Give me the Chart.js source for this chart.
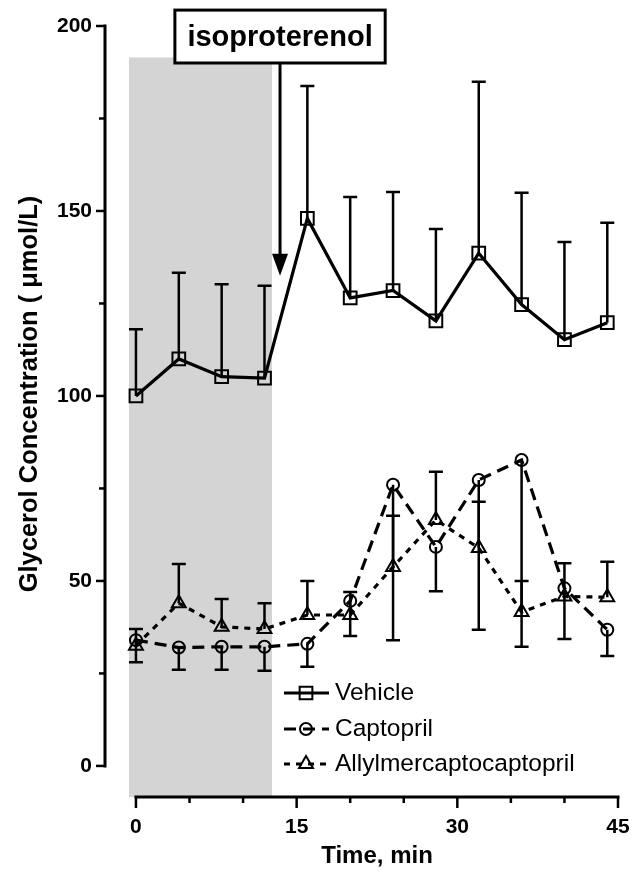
<!DOCTYPE html>
<html>
<head>
<meta charset="utf-8">
<script src="https://cdn.jsdelivr.net/npm/chart.js@4.4.0/dist/chart.umd.min.js"></script>
<style>
  html, body { margin: 0; padding: 0; background: #fff; }
  #wrap { width: 635px; height: 874px; }
</style>
</head>
<body>
<div id="wrap"><canvas id="grafica" width="635" height="874"></canvas></div>
<script>
// Datos (media y SEM)
const tiempos = [0, 4, 8, 12, 16, 20, 24, 28, 32, 36, 40, 44];
const vehicleMean = [100, 110, 105.2, 104.8, 148, 126.5, 128.5, 120.3, 138.6, 124.7, 115.2, 119.8];
const vehicleSem = [18, 23.3, 25, 25, 35.8, 27.3, 26.6, 24.8, 46.3, 30.2, 26.4, 27];
const captoprilMean = [34, 32, 32.2, 32.2, 33, 44.6, 76, 59.2, 77.3, 82.7, 48, 36.8];
const captoprilSem = [6, 6, 6.2, 6.5, 6.2, 9.5, 42, 12, 40.5, 50.5, 13.7, 7.1];
const amcMean = [32.5, 44, 37.6, 37, 40.8, 40.8, 53.8, 66.5, 58.9, 41.6, 45.8, 45.6];
const amcSem = [4.5, 10.6, 7.5, 7, 9.2, 6.2, 13.8, 13, 12.5, 8.4, 9, 9.6];

const xTicks = [0, 5, 10, 15, 20, 25, 30, 35, 40, 45];
const yTicks = [0, 25, 50, 75, 100, 125, 150, 175, 200];

const FONT = "'Liberation Sans', Arial, Helvetica, sans-serif";

// zona sombreada y anotación
const sombra = { desde: -0.65, hasta: 12.7, techo: 191.5 };
const flecha = { x: 13.45, punta: 132.5 };
const etiqueta = { texto: 'isoproterenol', arriba: 204.3, abajo: 190 };

const puntos = (ys) => tiempos.map((t, i) => ({ x: t, y: ys[i] }));

function marcador(ctx, estilo, x, y, r) {
  ctx.beginPath();
  if (estilo === 'rect') {
    const s = r * Math.SQRT1_2;
    ctx.rect(x - s, y - s, 2 * s, 2 * s);
  } else if (estilo === 'circle') {
    ctx.arc(x, y, r, 0, Math.PI * 2);
  } else {
    const h = r * 1.5, w = r * Math.sqrt(3) / 2;
    ctx.moveTo(x, y - r);
    ctx.lineTo(x + w, y + h - r);
    ctx.lineTo(x - w, y + h - r);
    ctx.closePath();
  }
  ctx.stroke();
}

const extras = {
  id: 'extras',
  beforeDatasetsDraw(chart) {
    const { ctx, chartArea, scales: { x, y } } = chart;
    ctx.save();
    // sombreado
    const x0 = x.getPixelForValue(sombra.desde);
    const x1 = x.getPixelForValue(sombra.hasta);
    const yt = y.getPixelForValue(sombra.techo);
    ctx.fillStyle = '#d4d4d4';
    ctx.fillRect(x0, yt, x1 - x0, chartArea.bottom - yt);

    // barras de error
    ctx.strokeStyle = '#000';
    ctx.lineWidth = 2.5;
    ctx.setLineDash([]);
    chart.data.datasets.forEach(ds => {
      ds.data.forEach((p, i) => {
        const px = x.getPixelForValue(p.x);
        const py = y.getPixelForValue(p.y);
        const pe = y.getPixelForValue(p.y + ds.errDir * ds.sem[i]);
        ctx.beginPath();
        ctx.moveTo(px, py);
        ctx.lineTo(px, pe);
        ctx.moveTo(px - 7, pe);
        ctx.lineTo(px + 7, pe);
        ctx.stroke();
      });
    });
    ctx.restore();
  },
  afterDraw(chart) {
    const { ctx, chartArea, scales: { x, y } } = chart;
    ctx.save();
    ctx.strokeStyle = '#000';
    ctx.fillStyle = '#000';
    ctx.setLineDash([]);

    // eje Y
    const left = chartArea.left;
    ctx.lineWidth = 3;
    ctx.beginPath();
    ctx.moveTo(left, y.getPixelForValue(200) - 1.5);
    ctx.lineTo(left, y.getPixelForValue(0) + 1.5);
    ctx.stroke();
    ctx.lineWidth = 2.5;
    yTicks.forEach(v => {
      const len = v % 50 === 0 ? 9 : 6;
      const py = y.getPixelForValue(v);
      ctx.beginPath();
      ctx.moveTo(left - len, py);
      ctx.lineTo(left, py);
      ctx.stroke();
    });

    // eje X
    const bottom = chartArea.bottom;
    ctx.lineWidth = 3;
    ctx.beginPath();
    ctx.moveTo(x.getPixelForValue(0) - 1.5, bottom);
    ctx.lineTo(x.getPixelForValue(45) + 1.5, bottom);
    ctx.stroke();
    ctx.lineWidth = 2.5;
    xTicks.forEach(v => {
      const len = v % 15 === 0 ? 11 : 6;
      const px = x.getPixelForValue(v);
      ctx.beginPath();
      ctx.moveTo(px, bottom);
      ctx.lineTo(px, bottom + len);
      ctx.stroke();
    });

    // títulos de ejes
    ctx.font = `bold 24px ${FONT}`;
    ctx.textAlign = 'center';
    ctx.textBaseline = 'middle';
    ctx.fillText('Time, min', 377, 856);
    ctx.save();
    ctx.translate(30, 394);
    ctx.rotate(-Math.PI / 2);
    ctx.font = `bold 25.5px ${FONT}`;
    ctx.fillText('Glycerol Concentration ( \u03BCmol/L)', 0, 0);
    ctx.restore();

    // leyenda
    const filas = [693, 729, 764];
    chart.data.datasets.forEach((ds, i) => {
      const ly = filas[i];
      ctx.lineWidth = 3;
      ctx.setLineDash(ds.borderDash || []);
      ctx.beginPath();
      ctx.moveTo(284, ly);
      ctx.lineTo(329, ly);
      ctx.stroke();
      ctx.setLineDash([]);
      ctx.lineWidth = 2;
      marcador(ctx, ds.pointStyle, 306, ly, ds.pointRadius);
      ctx.font = `24.5px ${FONT}`;
      ctx.textAlign = 'left';
      ctx.fillText(ds.label, 335, ly);
    });

    // anotación isoproterenol
    const ax = x.getPixelForValue(flecha.x);
    const bTop = y.getPixelForValue(etiqueta.arriba);
    const bBot = y.getPixelForValue(etiqueta.abajo);
    ctx.font = `bold 29px ${FONT}`;
    const tw = ctx.measureText(etiqueta.texto).width;
    const bw = tw + 25;
    ctx.fillStyle = '#fff';
    ctx.fillRect(ax - bw / 2, bTop, bw, bBot - bTop);
    ctx.lineWidth = 3;
    ctx.strokeRect(ax - bw / 2, bTop, bw, bBot - bTop);
    ctx.fillStyle = '#000';
    ctx.textAlign = 'center';
    ctx.fillText(etiqueta.texto, ax, (bTop + bBot) / 2 + 1);

    const tip = y.getPixelForValue(flecha.punta);
    ctx.beginPath();
    ctx.moveTo(ax, bBot);
    ctx.lineTo(ax, tip - 15);
    ctx.stroke();
    ctx.beginPath();
    ctx.moveTo(ax, tip);
    ctx.lineTo(ax - 8, tip - 22);
    ctx.lineTo(ax + 8, tip - 22);
    ctx.closePath();
    ctx.fill();
    ctx.restore();
  }
};

const serie = (label, ys, sem, dir, estilo, radio, dash) => ({
  label,
  data: puntos(ys),
  sem,
  errDir: dir,
  borderColor: '#000',
  backgroundColor: 'rgba(0,0,0,0)',
  borderWidth: 3.2,
  borderDash: dash,
  pointStyle: estilo,
  pointRadius: radio,
  pointBorderWidth: 2,
  pointBorderColor: '#000',
  pointBackgroundColor: 'rgba(0,0,0,0)',
  tension: 0,
  fill: false
});

new Chart(document.getElementById('grafica').getContext('2d'), {
  type: 'line',
  data: {
    datasets: [
      serie('Vehicle', vehicleMean, vehicleSem, 1, 'rect', 9, []),
      serie('Captopril', captoprilMean, captoprilSem, -1, 'circle', 6, [12, 7]),
      serie('Allylmercaptocaptopril', amcMean, amcSem, 1, 'triangle', 8, [6, 6])
    ]
  },
  plugins: [extras],
  options: {
    responsive: false,
    animation: false,
    layout: { padding: { top: 26, right: 17, left: 0, bottom: 0 } },
    plugins: { legend: { display: false }, tooltip: { enabled: false } },
    scales: {
      x: {
        type: 'linear',
        min: -2.89,
        max: 45,
        afterFit: s => { s.height = 77; s.paddingLeft = 0; s.paddingRight = 0; },
        afterBuildTicks: s => { s.ticks = xTicks.map(v => ({ value: v })); },
        grid: { display: false, drawTicks: false },
        border: { display: false },
        ticks: {
          autoSkip: false,
          maxRotation: 0,
          padding: 18,
          color: '#000',
          font: { family: FONT, size: 21, weight: 'bold' },
          callback: v => (v % 15 === 0 ? String(v) : '')
        }
      },
      y: {
        min: -8.4,
        max: 200,
        afterFit: s => { s.width = 105; s.paddingTop = 0; s.paddingBottom = 0; },
        afterBuildTicks: s => { s.ticks = yTicks.map(v => ({ value: v })); },
        grid: { display: false, drawTicks: false },
        border: { display: false },
        ticks: {
          autoSkip: false,
          padding: 13,
          color: '#000',
          font: { family: FONT, size: 21, weight: 'bold' },
          callback: v => (v % 50 === 0 ? String(v) : '')
        }
      }
    }
  }
});
</script>
</body>
</html>
